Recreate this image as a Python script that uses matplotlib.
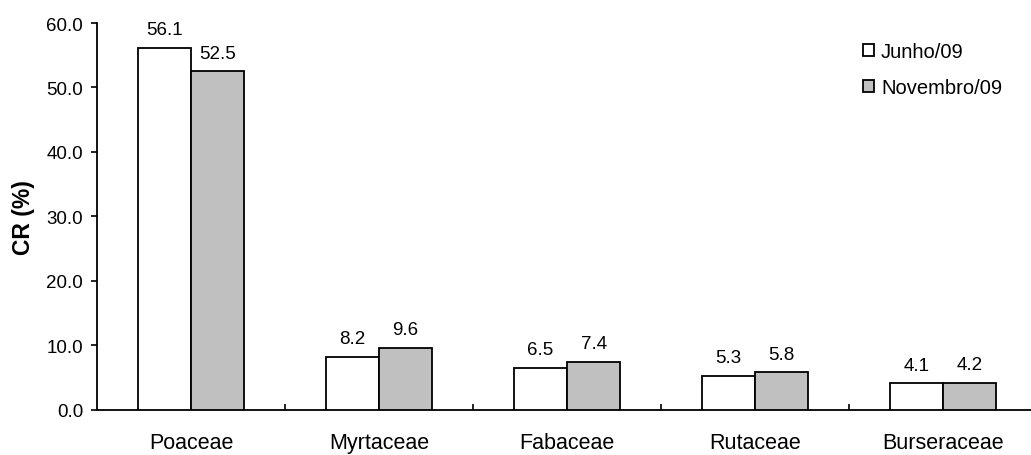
import matplotlib
matplotlib.use('Agg')
import matplotlib.pyplot as plt
from matplotlib.patches import Patch
import numpy as np

plt.rcParams['font.family'] = ['Liberation Sans', 'DejaVu Sans']

# Data
families = ['Poaceae', 'Myrtaceae', 'Fabaceae', 'Rutaceae', 'Burseraceae']
junho = [56.1, 8.2, 6.5, 5.3, 4.1]
novembro = [52.5, 9.6, 7.4, 5.8, 4.2]
series_names = ['Junho/09', 'Novembro/09']

fig = plt.figure(figsize=(10.31, 4.56), dpi=100)
ax = fig.add_axes([97 / 1031, 0.0993, 940 / 1031, 0.848])

x = np.arange(len(families))
w = 0.283
b1 = ax.bar(x - w / 2, junho, w, color='white', edgecolor='black', linewidth=1.3, zorder=3)
b2 = ax.bar(x + w / 2, novembro, w, color='#c0c0c0', edgecolor='black', linewidth=1.3, zorder=3)

# value labels above each bar
for bars, vals in [(b1, junho), (b2, novembro)]:
    for bar, v in zip(bars, vals):
        ax.annotate(f'{v:.1f}', (bar.get_x() + bar.get_width() / 2, v),
                    xytext=(0, 7), textcoords='offset points',
                    ha='center', va='bottom', fontsize=13.5)

ax.set_xlim(-0.5, len(families) - 0.5)
ax.set_ylim(0, 60)
ax.set_yticks(np.arange(0, 61, 10))
ax.set_yticklabels([f'{v:.1f}' for v in np.arange(0, 61, 10)])
ax.set_xticks(x)
ax.set_xticklabels(families)
ax.set_xticks(np.arange(0.5, len(families) - 0.5, 1), minor=True)

ax.tick_params(axis='y', direction='out', length=4, width=1.2, pad=6, labelsize=13.5)
ax.tick_params(axis='x', which='major', length=0, pad=16, labelsize=15.5)
ax.tick_params(axis='x', which='minor', direction='in', length=4, width=1.2)

for s in ['top', 'right']:
    ax.spines[s].set_visible(False)
for s in ['left', 'bottom']:
    ax.spines[s].set_linewidth(1.3)

ax.set_ylabel('CR (%)', fontsize=16.5, fontweight='bold')
ax.yaxis.set_label_coords(-0.066, 0.5)

handles = [Patch(facecolor='white', edgecolor='black', linewidth=1.3),
           Patch(facecolor='#c0c0c0', edgecolor='black', linewidth=1.3)]
ax.legend(handles, series_names, loc='upper left', bbox_to_anchor=(863 / 1031, 1 - 43 / 456),
          bbox_transform=fig.transFigure, frameon=False, fontsize=14.5,
          handlelength=0.55, handleheight=0.55, handletextpad=0.35, labelspacing=0.85,
          borderaxespad=0, borderpad=0)

fig.savefig('out.png', dpi=100)
